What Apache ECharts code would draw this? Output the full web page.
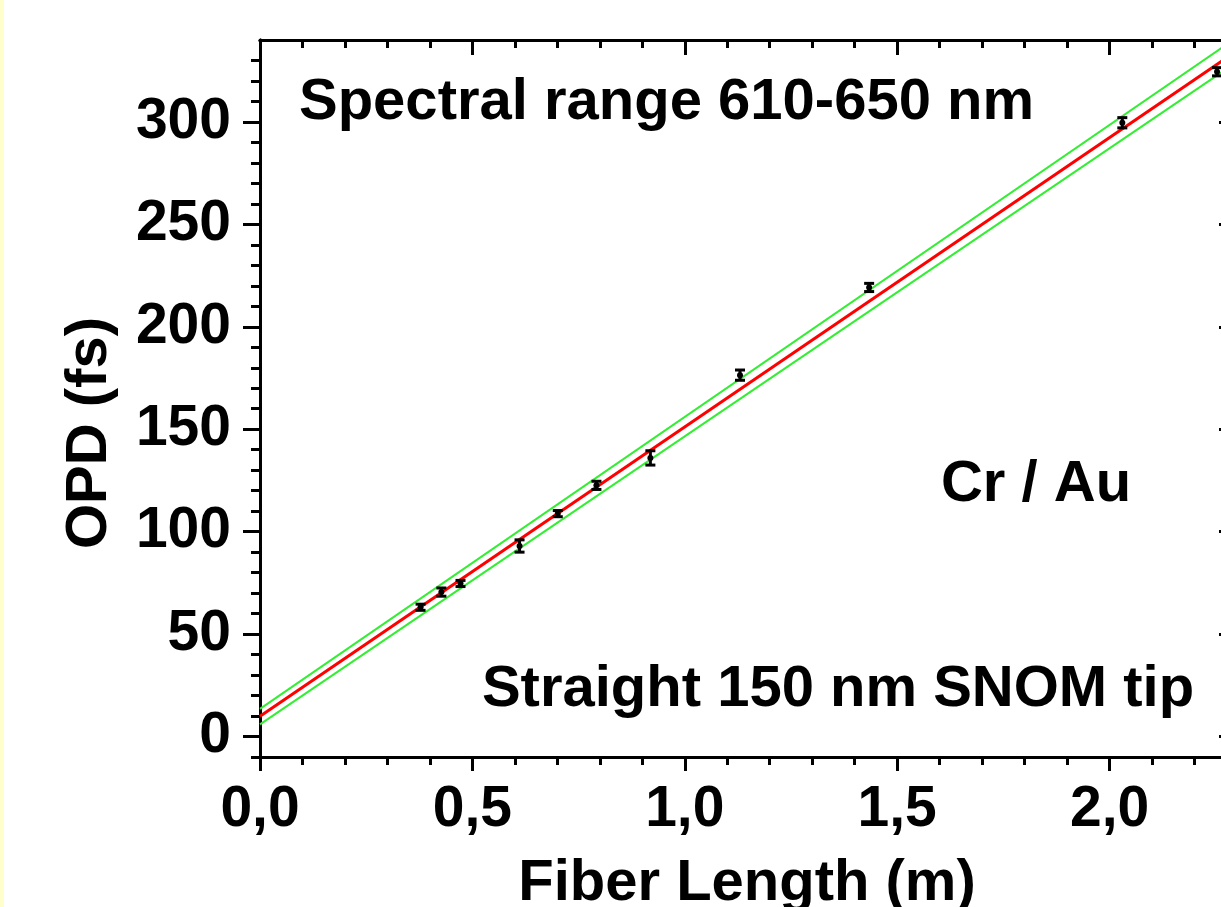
<!DOCTYPE html>
<html>
<head>
<meta charset="utf-8">
<script src="https://cdn.jsdelivr.net/npm/echarts@6/dist/echarts.min.js"></script>
<style>
  html, body { margin: 0; padding: 0; overflow: hidden; background: #fff; }
  #chart { width: 1240px; height: 907px; }
</style>
</head>
<body>
<div id="chart"></div>
<script>
// measured points (fiber length in m, OPD in fs, error half-width)
const fiberLength = [0.378, 0.427, 0.472, 0.611, 0.701, 0.792, 0.919, 1.130, 1.434, 2.030, 2.253]
const opd = [63.1, 70.5, 74.7, 93.0, 108.8, 122.6, 136.0, 176.4, 219.2, 299.6, 324.5]
const opdErr = [1.5, 2, 1.5, 3, 1.5, 2, 3.5, 2.5, 2, 2.5, 2]

// linear fit + confidence band, end points
const fitX = [0, 2.3]
const fitY = [9.9, 334.7]
const fitUpper = [13.5, 341.3]
const fitLower = [5.9, 329.3]

const xMajorTicks = [0, 0.5, 1.0, 1.5, 2.0]
const xMinorTicks = [0.1, 0.2, 0.3, 0.4, 0.6, 0.7, 0.8, 0.9, 1.1, 1.2, 1.3, 1.4, 1.6, 1.7, 1.8, 1.9, 2.1, 2.2]
const yMajorTicks = [0, 50, 100, 150, 200, 250, 300]
const yMinorTicks = [-10, 10, 20, 30, 40, 60, 70, 80, 90, 110, 120, 130, 140, 160, 170, 180, 190,
  210, 220, 230, 240, 260, 270, 280, 290, 310, 320, 330]

const FONT = '"Liberation Sans", Arial, sans-serif'
const chart = echarts.init(document.getElementById('chart'))

function xAxis(position, ticks, len, inside, labels) {
  return {
    type: 'value', min: 0, max: 2.3, position, gridIndex: 0,
    splitLine: { show: false },
    axisLine: { show: true, onZero: false, lineStyle: { color: '#000', width: 3 } },
    axisTick: { show: true, inside, length: len, customValues: ticks, lineStyle: { color: '#000', width: 3 } },
    axisLabel: {
      show: labels, customValues: ticks, margin: 25,
      color: '#000', fontFamily: FONT, fontWeight: 'bold', fontSize: 57,
      formatter: v => v.toFixed(1).replace('.', ',')
    }
  }
}

function yAxis(position, ticks, len, inside, labels) {
  return {
    type: 'value', min: -10, max: 340, position, gridIndex: 0,
    splitLine: { show: false },
    axisLine: { show: true, onZero: false, lineStyle: { color: '#000', width: 3 } },
    axisTick: { show: true, inside, length: len, customValues: ticks, lineStyle: { color: '#000', width: 3 } },
    axisLabel: {
      show: labels, customValues: ticks, margin: 29,
      color: '#000', fontFamily: FONT, fontWeight: 'bold', fontSize: 57
    }
  }
}

const lineData = ys => fitX.map((x, i) => [x, ys[i]])
const textStyle = (text, align) => ({ text, font: 'bold 58px ' + FONT, fill: '#000', align, verticalAlign: 'middle' })

chart.setOption({
  animation: false,
  backgroundColor: '#fff',
  grid: { left: 260, top: 40, right: 3, bottom: 150, containLabel: false },
  xAxis: [
    xAxis('bottom', xMajorTicks, 14, false, true),
    xAxis('bottom', xMinorTicks, 8, false, false),
    xAxis('top', xMajorTicks, 15, true, false),
    xAxis('top', xMinorTicks, 8, true, false)
  ],
  yAxis: [
    yAxis('left', yMajorTicks, 17, false, true),
    yAxis('left', yMinorTicks, 9, false, false),
    yAxis('right', yMajorTicks, 18, true, false),
    yAxis('right', yMinorTicks, 9, true, false)
  ],
  graphic: [
    { type: 'rect', left: 0, top: 0, shape: { width: 4, height: 907 }, style: { fill: '#ffffcc' }, silent: true },
    { type: 'text', x: 299, y: 103, style: textStyle('Spectral range 610-650 nm', 'left') },
    { type: 'text', x: 1036, y: 485, style: textStyle('Cr / Au', 'center') },
    { type: 'text', x: 838, y: 690, style: textStyle('Straight 150 nm SNOM tip', 'center') },
    { type: 'text', x: 747, y: 884, style: textStyle('Fiber Length (m)', 'center') },
    { type: 'text', x: 90, y: 433, rotation: Math.PI / 2, style: textStyle('OPD (fs)', 'center') }
  ],
  series: [
    {
      name: 'upper', type: 'line', data: lineData(fitUpper), symbol: 'none', clip: true,
      lineStyle: { color: '#33ee33', width: 2 }, z: 2
    },
    {
      name: 'lower', type: 'line', data: lineData(fitLower), symbol: 'none', clip: true,
      lineStyle: { color: '#33ee33', width: 2 }, z: 2
    },
    {
      name: 'fit', type: 'line', data: lineData(fitY), symbol: 'none', clip: true,
      lineStyle: { color: '#ff0000', width: 3 }, z: 3
    },
    {
      name: 'OPD', type: 'custom', z: 4,
      data: fiberLength.map((x, i) => [x, opd[i], opdErr[i]]),
      encode: { x: 0, y: 1 },
      renderItem(params, api) {
        const x = api.value(0)
        const y = api.value(1)
        const e = api.value(2)
        const c = api.coord([x, y])
        const hi = api.coord([x, y + e])
        const lo = api.coord([x, y - e])
        const hw = 5
        const st = { stroke: '#000', lineWidth: 3 }
        return {
          type: 'group',
          children: [
            { type: 'line', shape: { x1: hi[0], y1: hi[1], x2: lo[0], y2: lo[1] }, style: st },
            { type: 'line', shape: { x1: hi[0] - hw, y1: hi[1], x2: hi[0] + hw, y2: hi[1] }, style: st },
            { type: 'line', shape: { x1: lo[0] - hw, y1: lo[1], x2: lo[0] + hw, y2: lo[1] }, style: st },
            { type: 'circle', shape: { cx: c[0], cy: c[1], r: 3 }, style: { fill: '#000' } }
          ]
        }
      }
    }
  ]
})
</script>
</body>
</html>
